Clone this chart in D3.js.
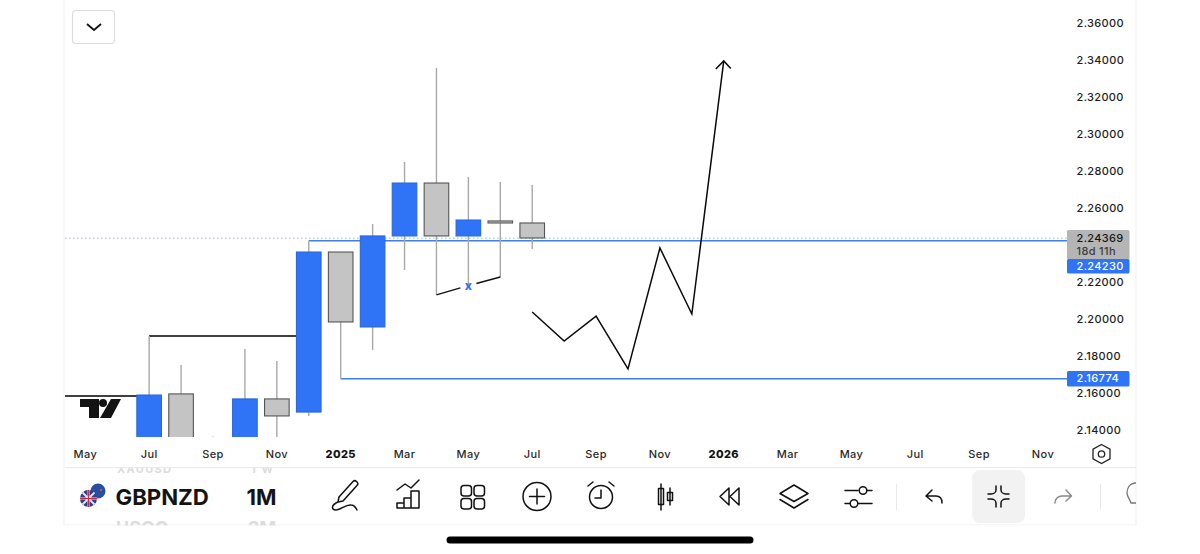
<!DOCTYPE html>
<html><head><meta charset="utf-8">
<style>html,body{margin:0;padding:0;background:#fff;overflow:hidden}svg{display:block}text{font-family:Inter,"Liberation Sans",sans-serif}</style>
<script src="https://cdn.jsdelivr.net/npm/d3@7"></script></head>
<body><svg id="c" width="1200" height="554"></svg>
<script>
// month slots: 0 = May 2024
const candleMonths=[2,3,4,5,6,7,8,9,10,11,12,13,14];
const opens =[2.1320,2.1595,2.1300,2.1300,2.1568,2.1497,2.2362,2.1957,2.2449,2.2735,2.2449,2.2519,2.2519];
const closes=[2.1589,2.1300,2.1340,2.1568,2.1476,2.2362,2.1984,2.2449,2.2735,2.2449,2.2535,2.2530,2.2438];
const highs =[2.1908,2.1751,2.1365,2.1838,2.1773,2.2423,2.2362,2.2514,2.2849,2.3357,2.2768,2.2741,2.2724];
const lows  =[2.1250,2.1250,2.1200,2.1250,2.1280,2.1476,2.1677,2.1832,2.2265,2.2130,2.2173,2.2227,2.2378];
const bullish=[1,0,1,1,0,1,0,1,1,0,1,0,0];
const forecastMonths=[14,15,16,17,18,19,20];
const forecastValues=[2.2038,2.1881,2.2016,2.1730,2.2384,2.2027,2.3395];
const xLabels=["May","Jul","Sep","Nov","2025","Mar","May","Jul","Sep","Nov","2026","Mar","May","Jul","Sep","Nov"];
const xLabelMonths=[0,2,4,6,8,10,12,14,16,18,20,22,24,26,28,30];
const priceTicks=[2.36,2.34,2.32,2.30,2.28,2.26,2.22,2.20,2.18,2.16,2.14];
const lastPrice=2.24369, level1=2.24230, level2=2.16774;
const symbol="GBPNZD", interval="1M";

const svg=d3.select("#c");
const x=d3.scaleLinear().domain([0,30]).range([85.3,1043]);
const y=d3.scaleLinear().domain([2.36,2.14]).range([23,430]);
const BLUE="#2f74f6";
const fx=f=>d3.format(".5f")(f);

svg.append("defs").append("clipPath").attr("id","plot").append("rect").attr("x",65).attr("y",0).attr("width",1002).attr("height",437);

// frame
svg.append("rect").attr("x",64).attr("y",-2).attr("width",1072).attr("height",527).attr("fill","#fff").attr("stroke","#efefef");
const plot=svg.append("g").attr("clip-path","url(#plot)");

// levels
plot.append("line").attr("x1",65).attr("x2",1067).attr("y1",y(lastPrice)).attr("y2",y(lastPrice)).attr("stroke","#9fb4cc").attr("stroke-width",1).attr("stroke-dasharray","1.5 2.5");
plot.append("path").attr("d",d3.line()([[x(7),y(level1)],[1067,y(level1)]])).attr("fill","none").attr("stroke","#3f7fe8").attr("stroke-width",1.4);
plot.append("path").attr("d",d3.line()([[x(8),y(level2)],[1067,y(level2)]])).attr("fill","none").attr("stroke","#3f7fe8").attr("stroke-width",1.4);

// black levels
plot.append("line").attr("x1",65).attr("x2",x(2)).attr("y1",y(2.1584)).attr("y2",y(2.1584)).attr("stroke","#000").attr("stroke-width",1.4);
plot.append("line").attr("x1",x(2)).attr("x2",x(7)-12).attr("y1",y(2.1908)).attr("y2",y(2.1908)).attr("stroke","#000").attr("stroke-width",1.4);

// candles
const rows=candleMonths.map((m,i)=>({m,o:opens[i],c:closes[i],h:highs[i],l:lows[i],b:bullish[i]}));
const g=plot.selectAll("g.c").data(rows).join("g").attr("class","c");
g.append("line").attr("x1",d=>x(d.m)).attr("x2",d=>x(d.m)).attr("y1",d=>y(d.h)).attr("y2",d=>y(d.l)).attr("stroke","#a8a8a8").attr("stroke-width",1.4);
g.append("rect").attr("x",d=>x(d.m)-12.3).attr("width",24.6)
 .attr("y",d=>y(Math.max(d.o,d.c))).attr("height",d=>Math.abs(y(d.o)-y(d.c)))
 .attr("fill",d=>d.b?BLUE:"#c4c4c4").attr("stroke",d=>d.b?"#2a66dc":"#555").attr("stroke-width",1.1);

// trend line with x marker
const tl=d3.line().x(d=>x(d[0])).y(d=>y(d[1]));
plot.append("path").attr("d",tl([[11,2.2130],[11.75,2.2168]])).attr("stroke","#111").attr("stroke-width",1.4).attr("fill","none");
plot.append("path").attr("d",tl([[12.25,2.2192],[13,2.2227]])).attr("stroke","#111").attr("stroke-width",1.4).attr("fill","none");
plot.append("text").attr("x",x(12)).attr("y",y(2.2175)+3.5).attr("text-anchor","middle").attr("font-size",12).attr("font-weight",800).attr("fill",BLUE).text("x");

// forecast
const fp=forecastMonths.map((m,i)=>[m,forecastValues[i]]);
plot.append("path").attr("d",tl(fp)).attr("fill","none").attr("stroke","#0a0a0a").attr("stroke-width",1.5);
const tip=fp[fp.length-1];
plot.append("path").attr("d",`M${x(tip[0])-8},${y(tip[1])+8}L${x(tip[0])},${y(tip[1])}L${x(tip[0])+7},${y(tip[1])+7.5}`).attr("fill","none").attr("stroke","#0a0a0a").attr("stroke-width",1.5);

// logo
const logo=svg.append("g").attr("transform","translate(80,398)").attr("fill","#131313");
logo.append("path").attr("d","M0 1H19V20H9V9H0Z");
logo.append("circle").attr("cx",23).attr("cy",5).attr("r",4);
logo.append("path").attr("d","M31 1H41L31 20H20Z");

// y axis
const yAxis=d3.axisRight(y).tickValues(priceTicks).tickFormat(fx).tickSize(0).tickPadding(0);
const ya=svg.append("g").attr("transform","translate(1076.5,-0.4)").call(yAxis);
ya.select(".domain").remove();
ya.selectAll("text").attr("font-size",11).attr("font-family","Inter,sans-serif").attr("fill","#1d1d1d").attr("letter-spacing",".35").attr("font-weight",500);

// price labels
function lab(yy,h,fill){
  svg.append("rect").attr("x",1067).attr("y",yy).attr("width",62.5).attr("height",h).attr("rx",1.5).attr("fill",fill);
}
function ltx(yy,t,col){svg.append("text").attr("x",1076.5).attr("y",yy).attr("dy",".35em").attr("font-size",11).attr("font-weight",500).attr("letter-spacing",".35").attr("fill",col).text(t);}
lab(230,29.5,"#b5b5b5");
lab(259,14.5,BLUE);
lab(371,15.5,BLUE);
ltx(238,fx(lastPrice),"#161616");
ltx(251,"18d 11h","#3c3c3c");
ltx(266,fx(level1),"#fff");
ltx(378.6,fx(level2),"#fff");

// x axis
const xa=svg.append("g");
xa.selectAll("text").data(xLabels).join("text")
 .attr("x",(d,i)=>x(xLabelMonths[i])).attr("y",454).attr("dy",".35em").attr("text-anchor","middle")
 .attr("font-size",11).attr("letter-spacing",".4").attr("fill",d=>/^\d/.test(d)?"#111":"#2a2a2a")
 .attr("font-weight",d=>/^\d/.test(d)?800:500).text(d=>d);
svg.append("path").attr("d","M1101.5 444.5l8.5 4.7v9.6l-8.5 4.7l-8.5-4.7v-9.6z").attr("fill","none").attr("stroke","#222").attr("stroke-width",1.3);
svg.append("circle").attr("cx",1101.5).attr("cy",454).attr("r",3.2).attr("fill","none").attr("stroke","#222").attr("stroke-width",1.3);

// ghost rows scrolling under the toolbar
svg.append("text").attr("x",117).attr("y",472.5).attr("font-size",11).attr("font-weight",700).attr("fill","#dcdcdc").attr("textLength",54).text("XAUUSD");
svg.append("text").attr("x",251).attr("y",472.5).attr("font-size",11).attr("font-weight",700).attr("fill","#dcdcdc").attr("textLength",22).text("1W");
svg.append("rect").attr("x",100).attr("y",461).attr("width",200).attr("height",6.5).attr("fill","#fff");
svg.append("line").attr("x1",65).attr("x2",1136).attr("y1",467.5).attr("y2",467.5).attr("stroke","#e9e9e9");
svg.append("text").attr("x",116).attr("y",534).attr("font-size",18).attr("font-weight",700).attr("fill","#dcdcdc").text("USOO");
svg.append("text").attr("x",248).attr("y",534).attr("font-size",18).attr("font-weight",700).attr("fill","#dcdcdc").text("2M");
svg.append("rect").attr("x",65).attr("y",525.5).attr("width",1071).attr("height",12).attr("fill","#fff");

svg.append("text").attr("x",115.5).attr("y",497).attr("dy",".35em").attr("font-size",22.2).attr("font-weight",700).attr("fill","#141414").text(symbol);
svg.append("text").attr("x",246.5).attr("y",497).attr("dy",".35em").attr("font-size",22).attr("font-weight",700).attr("fill","#141414").text(interval);

// flags
svg.append("circle").attr("cx",98).attr("cy",491).attr("r",7.5).attr("fill","#2a4f9e");
svg.append("circle").attr("cx",88.5).attr("cy",498.5).attr("r",8.5).attr("fill","#27408f");
svg.append("path").attr("d","M82.5 492.5L94.5 504.5M94.5 492.5L82.5 504.5M80 498.5H97M88.5 490V507").attr("stroke","#e8dfe2").attr("stroke-width",2);
svg.append("path").attr("d","M80 498.5H97M88.5 490V507").attr("stroke","#cf2b3d").attr("stroke-width",1.2);
svg.append("circle").attr("cx",101).attr("cy",490).attr("r",1).attr("fill","#e55");

// active collapse background
svg.append("rect").attr("x",972).attr("y",470).attr("width",53).attr("height",53).attr("rx",8).attr("fill","#f2f2f2");

const ic=svg.append("g").attr("fill","none").attr("stroke","#111").attr("stroke-width",1.5).attr("stroke-linecap","round").attr("stroke-linejoin","round");
// pen
ic.append("path").attr("d","M339 497L353 481.5a2.5 2.5 0 0 1 3.5 0l.5 .5a2.5 2.5 0 0 1 0 3.5L343 501L338 502ZM338 502C331 505 331 510 336 510C341 510 346 504 351 505C354 505 356 508 357 510");
// indicators
ic.append("path").attr("d","M397 490L405 484L411 488L419 480M397 508V503H404V508ZM404 508V498H411V508ZM411 508V491H419V508ZM397 508H419");
// grid
[[463,486],[476,486],[463,499],[476,499]].forEach(p=>ic.append("rect").attr("x",p[0]-2).attr("y",p[1]-.5).attr("width",10.5).attr("height",10.5).attr("rx",3));
// plus
ic.append("circle").attr("cx",537).attr("cy",496.5).attr("r",14);
ic.append("path").attr("d","M537 489V504M529.5 496.5H544.5");
// alarm
ic.append("circle").attr("cx",601).attr("cy",497).attr("r",11.5);
ic.append("path").attr("d","M601 490V498H595M588 486L593 482M614 486L609 482");
// candles
ic.append("path").attr("d","M661 484V510M670 488V505M658.5 488.5h5v16h-5zM667.5 492.5h5v8h-5z");
// rewind
ic.append("path").attr("d","M729 488L720 496.5L729 505ZM739 488L730 496.5L739 505Z");
// layers
ic.append("path").attr("d","M794 485L808 493.5L794 501.5L780 493.5ZM780 499.5L794 508L808 499.5");
// sliders
ic.append("path").attr("d","M845 490.5H858M867 490.5H872M845 503.5H849.5M858.5 503.5H872");
ic.append("circle").attr("cx",863).attr("cy",490.5).attr("r",3.8);
ic.append("circle").attr("cx",854).attr("cy",503.5).attr("r",3.8);
// separators
svg.append("line").attr("x1",896.5).attr("x2",896.5).attr("y1",484).attr("y2",510).attr("stroke","#e8e8e8");
svg.append("line").attr("x1",1100.5).attr("x2",1100.5).attr("y1",484).attr("y2",510).attr("stroke","#e8e8e8");
// undo
ic.append("path").attr("d","M932 490L926 496L932 501M926 496H936C940 496 942 499 942 503");
// collapse
ic.append("path").attr("d","M996 486V490C996 492 994 494 991 494H988M1001 486V490C1001 492 1003 494 1006 494H1009M996 507V503C996 501 994 499 991 499H988M1001 507V503C1001 501 1003 499 1006 499H1009");
// redo
svg.append("path").attr("d","M1066 490L1071.5 496L1066 501M1071.5 496H1062C1058 496 1055 499 1055 503").attr("fill","none").attr("stroke","#8a8a8a").attr("stroke-width",1.5).attr("stroke-linecap","round").attr("stroke-linejoin","round");
// bulb clipped
svg.append("path").attr("d","M1136 483C1129 483 1127 489 1127 493C1127 497 1130 499 1131 503H1136").attr("fill","none").attr("stroke","#777").attr("stroke-width",1.3);

// top button
svg.append("rect").attr("x",72.5).attr("y",10.5).attr("width",42).attr("height",33).attr("rx",3.5).attr("fill","#fff").attr("stroke","#dcdcdc").attr("stroke-width",1.2);
svg.append("path").attr("d","M87 24L94 30L101 24").attr("fill","none").attr("stroke","#111").attr("stroke-width",1.8);

// home bar
svg.append("rect").attr("x",446.5).attr("y",536.5).attr("width",307).attr("height",7).attr("rx",3.5).attr("fill","#000");
</script></body></html>
